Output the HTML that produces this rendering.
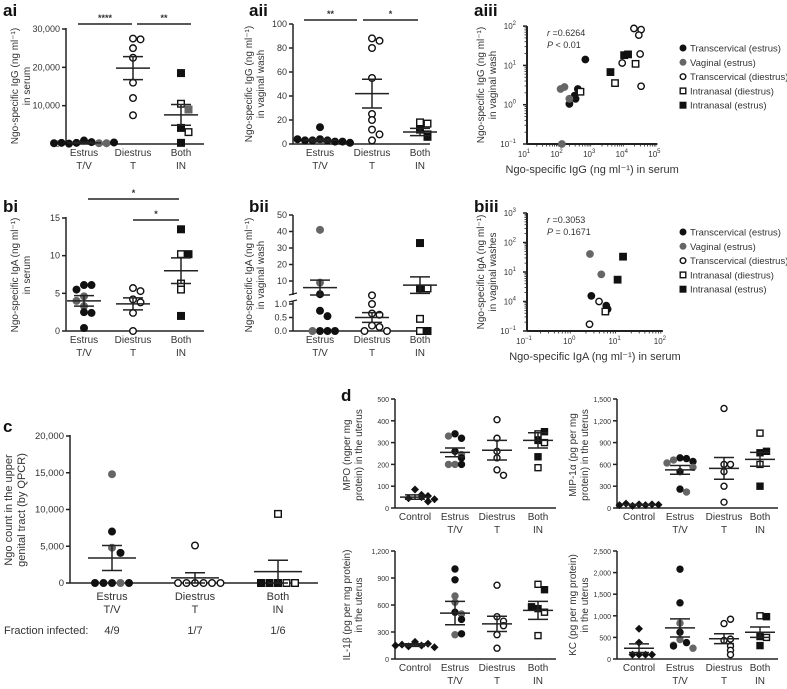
<!DOCTYPE html>
<html><head><meta charset="utf-8"><style>
body{margin:0;background:#fff}
svg{font-family:"Liberation Sans",sans-serif;display:block}
</style></head><body>
<svg id="fig" width="787" height="689" viewBox="0 0 787 689" xmlns="http://www.w3.org/2000/svg">
<g font-weight="bold" font-size="17" fill="#111">
<text x="3" y="16">ai</text>
<text x="249" y="16">aii</text>
<text x="474" y="16">aiii</text>
<text x="3" y="212">bi</text>
<text x="249" y="212">bii</text>
<text x="474" y="212">biii</text>
<text x="3" y="432">c</text>
<text x="341" y="401">d</text>
</g>
</svg>
<script>
// ---------- data ----------
const groups3 = ["Estrus|T/V","Diestrus|T","Both|IN"];
const groups4 = ["Control","Estrus|T/V","Diestrus|T","Both|IN"];
// ai
const aiEstrus=[900,500,300,200,100,200,300,400,200];
const aiEstrusShape=["fc","fc","fc","gc","fc","gc","fc","fc","fc"];
const aiDiestrus=[27500,27300,25000,22500,16000,12000,7500];
const aiBoth=[18500,10500,9000,4200,3100,300];
const aiBothShape=["fs","os","gs","fs","os","fs"];
const aiMean=[300,19800,7600], aiSem=[150,3000,2700];
// aii
const aiiEstrus=[14,4,3,3,2,3,2,4,1];
const aiiDiestrus=[88,86,80,55,25,20,12,8,3];
const aiiBoth=[18,17,12,8,6];
const aiiBothShape=["os","os","fs","os","fs"];
const aiiMean=[3,42,10], aiiSem=[1.2,12,3];
// bi
const biEstrus=[6.1,6.1,5.5,4.6,3.3,2.5,2.4,0.4,4.0];
const biEstrusShape=["fc","fc","fc","gc","gc","fc","fc","fc","gc"];
const biDiestrus=[5.7,5.3,4.2,3.8,2.4,0];
const biBoth=[13.5,10.2,10.2,6.3,5.5,2];
const biBothShape=["fs","os","fs","os","os","fs"];
const biMean=[4,3.6,8], biSem=[0.7,0.8,1.7];
// bii
const biiEstrus=[41,9,2,0.75,0.55,0,0,0,0];
const biiEstrusShape=["gc","gc","fc","fc","fc","fc","fc","gc","fc"];
const biiDiestrus=[1.3,1.0,0.65,0.6,0.2,0.15,0,0];
const biiBoth=[33,5.5,5.5,0.45,0,0];
const biiBothShape=["fs","fs","os","os","os","fs"];
const biiMean=[6,0.5,7.5], biiSem=[4.5,0.18,5];
// c
const cEstrus=[14800,7000,4800,4100,0,0,0,0,0];
const cEstrusShape=["gc","fc","gc","fc","fc","gc","fc","fc","fc"];
const cDiestrus=[5100,0,0,0,0,0,0];
const cBoth=[9400,0,0,0,0,0];
const cBothShape=["os","fs","os","fs","os","fs"];
const cMean=[3400,700,1550], cSem=[1700,700,1550];
// d
const mpoData=[[85,60,50,45,55,30,40],[340,320,330,260,245,230,200,200,200],[405,320,260,230,175,150],[340,350,310,300,235,185]];
const mpoMean=[50,255,265,310], mpoSem=[10,20,45,35];
const mipData=[[50,40,30,50,60,45,40],[690,680,660,640,620,500,560,260,220],[1370,600,600,500,300,80],[1030,760,780,600,300]];
const mipMean=[45,525,545,670], mipSem=[5,60,150,95];
const ilData=[[190,150,140,170,160,130,150],[1000,880,700,520,500,440,270,280,630],[820,470,420,370,270,120],[830,770,560,520,580,260]];
const ilMean=[155,510,390,540], ilSem=[15,130,85,100];
const kcData=[[700,380,100,100,100,100],[2080,1300,830,620,450,380,320,300,250],[820,920,430,460,300,200,100],[1000,980,520,500,310]];
const kcMean=[250,720,470,620], kcSem=[100,210,115,120];
const dShapes=[["fd"],["fc","fc","gc","fc","gc","fc","gc","fc","gc"],["oc"],["os","fs","fs","os","fs","os"]];
// scatter (log10 values)
const aiiiX={fc:[2.79,2.3,2.46,2.49,2.56],gc:[2.03,2.15,2.3,2.07],oc:[3.92,4.28,4.5,4.43,4.47,4.5],os:[2.64,3.7,4.33],fs:[3.56,3.98,4.1]};
const aiiiY={fc:[1.15,0.02,0.23,0.15,0.4],gc:[0.4,0.45,0.15,-1],oc:[1.06,1.94,1.91,1.77,1.29,0.47],os:[0.33,0.55,1.04],fs:[0.83,1.26,1.28]};
const biiiX={fc:[0.42,0.75,0.78],gc:[0.39,0.64],oc:[0.59,0.38],os:[0.73],fs:[1.12,1.0]};
const biiiY={fc:[0.19,-0.14,-0.26],gc:[1.61,0.92],oc:[0,-0.77],os:[-0.34],fs:[1.52,0.74]};
const legendLabels=["Transcervical (estrus)","Vaginal (estrus)","Transcervical (diestrus)","Intranasal (diestrus)","Intranasal (estrus)"];
const legendShapes=["fc","gc","oc","os","fs"];

// ---------- helpers ----------
const NS="http://www.w3.org/2000/svg", svg=document.getElementById('fig');
function mk(tag,attrs,parent){const e=document.createElementNS(NS,tag);for(const k in attrs)e.setAttribute(k,attrs[k]);(parent||svg).appendChild(e);return e;}
function marker(shape,x,y,g,r){
  r=r||3.3;let el;
  const fill=shape[0]==='f'?'#111':shape[0]==='g'?'#666':'#fff';
  const stroke=shape[0]==='g'?'#666':'#111';
  if(shape[1]==='c') el=mk('circle',{cx:x,cy:y,r:r,fill:fill,stroke:stroke,'stroke-width':1.4},g);
  else if(shape[1]==='s') el=mk('rect',{x:x-r,y:y-r,width:2*r,height:2*r,fill:fill,stroke:stroke,'stroke-width':1.4},g);
  else el=mk('path',{d:`M${x} ${y-r-1}L${x+r+1} ${y}L${x} ${y+r+1}L${x-r-1} ${y}Z`,fill:'#111'},g);
  
  
}
function txt(s,x,y,g,o){o=o||{};const t=mk('text',Object.assign({x:x,y:y,'font-size':10,fill:'#333','text-anchor':'middle'},o),g);t.textContent=s;return t;}
function line(x1,y1,x2,y2,g,w){return mk('line',{x1:x1,y1:y1,x2:x2,y2:y2,stroke:'#222','stroke-width':w||1.5},g);}
function ytitle(lines,x,yc,g,fs){
  lines.forEach((s,i)=>{const t=txt(s,x+i*(fs||10)*1.2,yc,g,{transform:`rotate(-90 ${x+i*(fs||10)*1.2} ${yc})`,'font-size':fs||10});
  
  });
}
function dotPlot(p){
  const g=mk('g',{});
  
  
  const ax=p.ax, fs=p.fs||9, lo0=p.lo||12;
  line(ax,p.yTop,ax,p.y0+0.5,g);
  line(ax,p.y0,p.xEnd,p.y0,g);
  p.ticks.forEach((v,i)=>{const y=p.ys(v);const tk=line(ax-4,y,ax,y,g);
    
    const t=txt(p.tickLabels[i],ax-6,y+3,g,{'text-anchor':'end','font-size':fs});
    });
  p.groups.forEach((lab,gi)=>{
    const cx=p.centers[gi];
    lab.split('|').forEach((s,k)=>{const t=txt(s,cx,p.y0+lo0+k*13,g,{'font-size':p.lfs||10});
      });
    const vals=p.data[gi], shp=p.shapes[gi];
    const placed=[];
    vals.forEach((v,i)=>{
      const y=p.ys(v);
      let n=placed.filter(q=>Math.abs(q-y)<6).length;
      placed.push(y);
      const off=(n%2?1:-1)*Math.ceil(n/2)*(p.sp||7.5);
      marker(shp[Math.min(i,shp.length-1)],cx+off,y,g,p.r);
    });
    const m=p.ys(p.mean[gi]), hi=p.ys(p.mean[gi]+p.sem[gi]), lo=p.ys(Math.max(0,p.mean[gi]-p.sem[gi]));
    const ml=line(cx-(p.mw||17),m,cx+(p.mw||17),m,g);
    
    line(cx,hi,cx,lo,g);
    line(cx-10,hi,cx+10,hi,g);line(cx-10,lo,cx+10,lo,g);
  });
  return g;
}
function sig(x1,x2,y,s){line(x1,y,x2,y);const t=txt(s,(x1+x2)/2,y-3,svg,{'font-size':9,'font-weight':'bold'});
  }

// ---------- panels ----------
dotPlot({name:'chart-ai',ax:66,xEnd:204,y0:144,yTop:28,ys:v=>144-v*115/30000,ticks:[0,10000,20000,30000],tickLabels:["0","10,000","20,000","30,000"],
  groups:groups3,centers:[84,133,181],data:[aiEstrus,aiDiestrus,aiBoth],shapes:[aiEstrusShape,["oc"],aiBothShape],mean:aiMean,sem:aiSem});
sig(78,132,24,"****");sig(137,191,24,"**");
ytitle(["Ngo-specific IgG (ng ml⁻¹)","in serum"],18,86);

dotPlot({name:'chart-aii',ax:293,xEnd:430,y0:144,yTop:24,ys:v=>144-v*1.2,ticks:[0,20,40,60,80,100],tickLabels:["0","20","40","60","80","100"],
  groups:groups3,centers:[320,372,420],data:[aiiEstrus,aiiDiestrus,aiiBoth],shapes:[["fc"],["oc"],aiiBothShape],mean:aiiMean,sem:aiiSem});
sig(304,357,20,"**");sig(363,418,20,"*");
ytitle(["Ngo-specific IgG (ng ml⁻¹)","in vaginal wash"],252,84);

dotPlot({name:'chart-bi',ax:66,xEnd:204,y0:331,yTop:217,ys:v=>331-v*113/15,ticks:[0,5,10,15],tickLabels:["0","5","10","15"],
  groups:groups3,centers:[84,133,181],data:[biEstrus,biDiestrus,biBoth],shapes:[biEstrusShape,["oc"],biBothShape],mean:biMean,sem:biSem});
sig(88,179,199,"*");sig(133,179,220,"*");
ytitle(["Ngo-specific IgA (ng ml⁻¹)","in serum"],18,275);

const biiY=v=>v>1.05?297.5-v*1.65:331-v*27;
const gbii=dotPlot({name:'chart-bii',ax:293,xEnd:430,y0:331,yTop:215,ys:biiY,ticks:[0,0.5,1.0,10,20,30,40,50],tickLabels:["0.0","0.5","1.0","10","20","30","40","50"],
  groups:groups3,centers:[320,372,420],data:[biiEstrus,biiDiestrus,biiBoth],shapes:[biiEstrusShape,["oc"],biiBothShape],mean:biiMean,sem:biiSem});
mk('rect',{x:286,y:295,width:14,height:6,fill:'#fff'},gbii);
line(289,295,297,293,gbii,1.2);line(289,302,297,300,gbii,1.2);
ytitle(["Ngo-specific IgA (ng ml⁻¹)","in vaginal wash"],252,275);

dotPlot({name:'chart-c',ax:70,xEnd:318,y0:583,yTop:435,ys:v=>583-v*147/20000,ticks:[0,5000,10000,15000,20000],tickLabels:["0","5,000","10,000","15,000","20,000"],
  groups:groups3,centers:[112,195,278],data:[cEstrus,cDiestrus,cBoth],shapes:[cEstrusShape,["oc"],cBothShape],mean:cMean,sem:cSem,lfs:11,fs:9.5,mw:24,sp:8.5,lo:17});
ytitle(["Ngo count in the upper","genital tract (by QPCR)"],12,510,svg,11);
txt("Fraction infected:",4,634,svg,{'text-anchor':'start','font-size':11});
txt("4/9",112,634,svg,{'font-size':11});txt("1/7",195,634,svg,{'font-size':11});txt("1/6",278,634,svg,{'font-size':11});

const dOpts={groups:groups4,shapes:dShapes,r:3,sp:6.5,mw:15,fs:7,lfs:10};
dotPlot(Object.assign({name:'chart-mpo',ax:395,xEnd:556,y0:508,yTop:399,ys:v=>508-v*109/500,ticks:[0,100,200,300,400,500],tickLabels:["0","100","200","300","400","500"],
  centers:[415,455,497,538],data:mpoData,mean:mpoMean,sem:mpoSem},dOpts));
ytitle(["MPO (ngper mg","protein) in the uterus"],350,455);
dotPlot(Object.assign({name:'chart-mip1a',ax:617,xEnd:778,y0:508,yTop:399,ys:v=>508-v*109/1500,ticks:[0,300,600,900,1200,1500],tickLabels:["0","300","600","900","1,200","1,500"],
  centers:[639,680,724,760],data:mipData,mean:mipMean,sem:mipSem},dOpts));
ytitle(["MIP-1α (pg per mg","protein) in the uterus"],576,455);
dotPlot(Object.assign({name:'chart-il1b',ax:395,xEnd:556,y0:659,yTop:551,ys:v=>659-v*108/1200,ticks:[0,300,600,900,1200],tickLabels:["0","300","600","900","1,200"],
  centers:[415,455,497,538],data:ilData,mean:ilMean,sem:ilSem},dOpts));
ytitle(["IL-1β (pg per mg protein)","in the uterus"],350,605);
dotPlot(Object.assign({name:'chart-kc',ax:617,xEnd:778,y0:659,yTop:551,ys:v=>659-v*108/2500,ticks:[0,500,1000,1500,2000,2500],tickLabels:["0","500","1,000","1,500","2,000","2,500"],
  centers:[639,680,724,760],data:kcData,mean:kcMean,sem:kcSem},dOpts));
ytitle(["KC (pg per mg protein)","in the uterus"],576,605);

// scatter
function scatter(p){
  const g=mk('g',{});
  
  
  const xs=v=>p.x0+(v-p.xmin)*p.xd, ys=v=>p.y0-(v-p.ymin)*p.yd;
  line(p.x0,p.y0-(p.ymax-p.ymin)*p.yd,p.x0,p.y0+0.5,g,2);
  line(p.x0,p.y0,p.x0+(p.xmax-p.xmin)*p.xd,p.y0,g,2);
  for(let d=p.xmin;d<=p.xmax;d++){
    const t=txt('10',xs(d)-3,p.y0+13,g,{'font-size':8});
    
    const s=mk('tspan',{dy:-4,'font-size':6},t);s.textContent=String(d).replace('-','−');
    if(d<p.xmax)for(let k=2;k<10;k++){const xx=xs(d+Math.log10(k));line(xx,p.y0,xx,p.y0+2.5,g,0.8);}
  }
  for(let d=p.ymin;d<=p.ymax;d++){
    const lbl=p.yLabels?p.yLabels[d-p.ymin]:String(d);
    const t=txt('10',p.x0-11,ys(d)+3,g,{'font-size':8,'text-anchor':'end'});
    
    const s=mk('tspan',{dy:-4,'font-size':6},t);s.textContent=lbl.replace('-','−');
    line(p.x0-4,ys(d),p.x0,ys(d),g);
    if(d<p.ymax)for(let k=2;k<10;k++){const yy=ys(d+Math.log10(k));line(p.x0-2.5,yy,p.x0,yy,g,0.8);}
  }
  for(const sh in p.X){p.X[sh].forEach((v,i)=>marker(sh,xs(v),ys(p.Y[sh][i]),g,3.2));}
  const r1=txt('',p.x0+20,p.y0-(p.ymax-p.ymin)*p.yd+10,g,{'text-anchor':'start','font-size':9});
  
  const it=mk('tspan',{'font-style':'italic'},r1);it.textContent='r';const t2=mk('tspan',{},r1);t2.textContent=p.r;
  const p1=txt('',p.x0+20,p.y0-(p.ymax-p.ymin)*p.yd+22,g,{'text-anchor':'start','font-size':9});
  
  const it2=mk('tspan',{'font-style':'italic'},p1);it2.textContent='P';const t3=mk('tspan',{},p1);t3.textContent=p.p;
  const xl=txt(p.xlabel,p.x0+(p.xmax-p.xmin)*p.xd/2,p.y0+29,g,{'font-size':11});
  
  legendLabels.forEach((s,i)=>{
    const y=p.legY+i*14.3;
    marker(legendShapes[i],683,y,g,2.8);
    const t=txt(s,690,y+3.5,g,{'text-anchor':'start','font-size':9.5});
    
  });
}
scatter({name:'chart-aiii',x0:527,y0:144,xmin:1,xmax:5,xd:32.6,ymin:-1,ymax:2,yd:39.3,X:aiiiX,Y:aiiiY,r:' =0.6264',p:' < 0.01',
  xlabel:'Ngo-specific IgG (ng ml⁻¹) in serum',legY:48});
ytitle(["Ngo-specific IgG (ng ml⁻¹)","in vaginal wash"],484,85);
scatter({name:'chart-biii',x0:527,y0:331,xmin:-1,xmax:2,xd:45.3,ymin:-1,ymax:3,yd:29.5,X:biiiX,Y:biiiY,r:' =0.3053',p:' = 0.1671',
  xlabel:'Ngo-specific IgA (ng ml⁻¹) in serum',legY:232,yLabels:["-1","4","1","2","3"]});
ytitle(["Ngo-specific IgA (ng ml⁻¹)","in vaginal washes"],484,272);
</script>
</body></html>
